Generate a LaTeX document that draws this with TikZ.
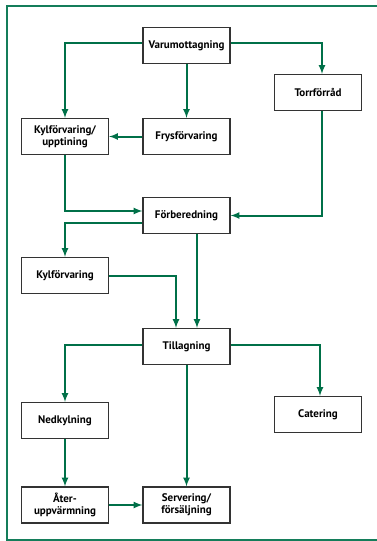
\documentclass[tikz,border=0pt]{standalone}
\usepackage{fontspec}
\setmainfont{PT Sans}
\usepackage{tikz}
\definecolor{flodgron}{RGB}{0,112,72}
\definecolor{ramgron}{RGB}{20,125,90}

\begin{document}
\begin{tikzpicture}[
    x=1pt, y=-1pt,
    box/.style={rectangle, draw=black!80, line width=1.1pt, fill=white, align=center, minimum width=87pt, minimum height=36pt, inner sep=2pt, font=\bfseries\fontsize{11}{12}\selectfont},
    arrow/.style={->, >=latex, line width=2pt, draw=flodgron}
]
\useasboundingbox (0,0) rectangle (377,541);

% Ram
\draw[ramgron, line width=2pt] (377,6) -- (7,6) -- (7,540) -- (377,540);

% Rutor
\node[box] (varu) at (186.5,45.5) {Varumottagning};
\node[box] (torr) at (318,92.5) {Torrförråd};
\node[box] (kylupp) at (65,136.5) {Kylförvaring/\\upptining};
\node[box] (frys) at (186.5,136.5) {Frysförvaring};
\node[box] (forb) at (186.5,215.5) {Förberedning};
\node[box] (kyl) at (65,275.5) {Kylförvaring};
\node[box] (till) at (186.5,346.5) {Tillagning};
\node[box] (cat) at (318,414.5) {Catering};
\node[box] (ned) at (65,420.5) {Nedkylning};
\node[box] (ater) at (65,505) {Åter-\\uppvärmning};
\node[box] (serv) at (186.5,505) {Servering/\\försäljning};

% Pilar
\draw[arrow] ([yshift=3pt]varu.west) -| (kylupp.north);
\draw[arrow] (varu.south) -- (frys.north);
\draw[arrow] ([yshift=3pt]varu.east) -| ([xshift=4pt]torr.north);
\draw[arrow] (frys.west) -- (kylupp.east);
\draw[arrow] (kylupp.south) |- ([yshift=4.5pt]forb.west);
\draw[arrow] ([xshift=4pt]torr.south) |- (forb.east);
\draw[arrow] ([yshift=-7.5pt]forb.west) -| (kyl.north);
\draw[arrow] ([xshift=10.5pt]forb.south) -- ([xshift=10.5pt]till.north);
\draw[arrow] (kyl.east) -| ([xshift=-10.5pt]till.north);
\draw[arrow] ([yshift=1.5pt]till.west) -| (ned.north);
\draw[arrow] ([yshift=1.5pt]till.east) -| ([xshift=2pt]cat.north);
\draw[arrow] (till.south) -- (serv.north);
\draw[arrow] (ned.south) -- (ater.north);
\draw[arrow] (ater.east) -- (serv.west);

\end{tikzpicture}
\end{document}
